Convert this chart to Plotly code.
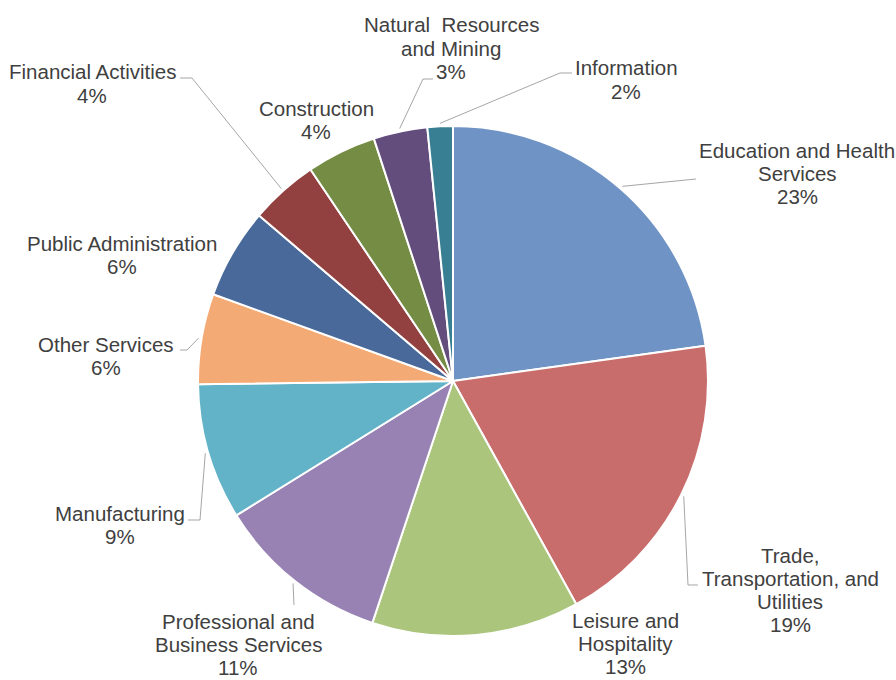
import math
import plotly.graph_objects as go

# ---- data ----
categories = [
    "Education and Health Services",
    "Trade, Transportation, and Utilities",
    "Leisure and Hospitality",
    "Professional and Business Services",
    "Manufacturing",
    "Other Services",
    "Public Administration",
    "Financial Activities",
    "Construction",
    "Natural Resources and Mining",
    "Information",
]
values = [22.7, 19.1, 13.1, 11.0, 8.6, 5.7, 5.7, 4.3, 4.4, 3.4, 1.6]
label_lines = [
    ["Education and Health", "Services"],
    ["Trade,", "Transportation, and", "Utilities"],
    ["Leisure and", "Hospitality"],
    ["Professional and", "Business Services"],
    ["Manufacturing"],
    ["Other Services"],
    ["Public Administration"],
    ["Financial Activities"],
    ["Construction"],
    ["Natural\u00a0 Resources", "and Mining"],
    ["Information"],
]

# ---- styles / layout ----
colors = ["#6F93C5", "#C96D6C", "#ABC57C", "#9782B3", "#62B2C8", "#F4AA74",
          "#48699A", "#934140", "#758C44", "#624D7C", "#387F93"]
W, H = 896, 680
CX, CY, R = 453, 381, 255
# label block: x center px, first line y px
label_pos = [(797, 150), (790, 555), (625, 620), (238, 621), (120, 513), (106, 344),
             (122, 243), (92, 72), (316, 108), (451, 25), (626, 68)]
LINE_H = 23.3
# leader elbow points (px) from text side; pie end computed from slice angle
leaders = [
    [(696, 179)],
    [(698, 585), (688, 585)],
    None,
    [(294, 605)],
    [(188, 520), (200, 520)],
    [(180, 350), (187, 350)],
    None,
    [(180, 78), (192, 78)],
    None,
    [(433, 79), (423, 79)],
    [(572, 73), (560, 73)],
]

total = sum(values)

fig = go.Figure(go.Pie(
    labels=categories, values=values, sort=False, direction="clockwise", rotation=0,
    marker=dict(colors=colors, line=dict(color="white", width=2)),
    textinfo="none", hoverinfo="label+percent", showlegend=False,
    domain=dict(x=[(CX - R) / W, (CX + R) / W], y=[(H - CY - R) / H, (H - CY + R) / H]),
))

def px2paper(x, y):
    return x / W, 1 - y / H

annotations = []
shapes = []
cum = 0.0
for i, v in enumerate(values):
    pct = f"{round(100 * v / total)}%"
    lines = label_lines[i] + [pct]
    lx, ly = label_pos[i]
    for j, t in enumerate(lines):
        px, py = px2paper(lx, ly + j * LINE_H)
        annotations.append(dict(x=px, y=py, xref="paper", yref="paper", text=t,
                                showarrow=False, xanchor="center", yanchor="middle",
                                font=dict(family="Liberation Sans, Arial, sans-serif",
                                          size=20.5, color="#404040")))
    theta = 2 * math.pi * (cum + v / 2) / total
    cum += v
    if leaders[i]:
        rr = R + 3
        pts = leaders[i] + [(CX + rr * math.sin(theta), CY - rr * math.cos(theta))]
        path = ""
        for k, (x, y) in enumerate(pts):
            qx, qy = px2paper(x, y)
            path += ("M" if k == 0 else " L") + f"{qx:.5f},{qy:.5f}"
        shapes.append(dict(type="path", path=path, xref="paper", yref="paper",
                           line=dict(color="#A6A6A6", width=1)))

fig.update_layout(
    width=W, height=H, margin=dict(l=0, r=0, t=0, b=0),
    paper_bgcolor="white", plot_bgcolor="white",
    annotations=annotations, shapes=shapes,
)
fig.write_html("out.html",
               config={"displayModeBar": False},
               post_script="document.body.style.margin='0';document.body.style.padding='0';"
                           "document.body.style.overflow='hidden';")
